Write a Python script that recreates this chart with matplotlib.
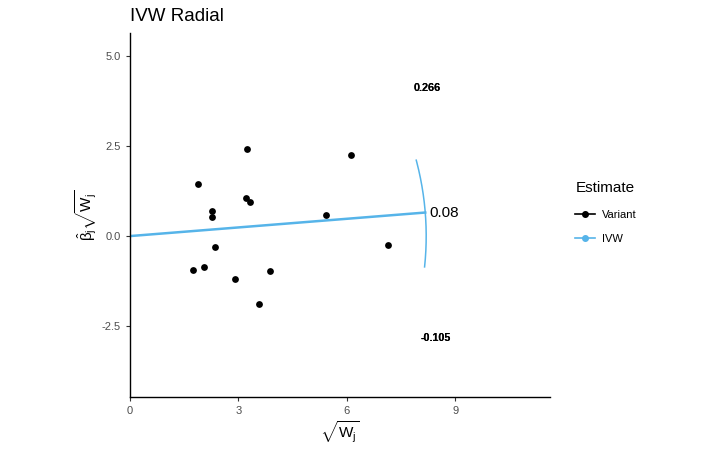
import numpy as np
import matplotlib
matplotlib.use("Agg")
import matplotlib.pyplot as plt
from matplotlib.lines import Line2D

plt.rcParams['font.family'] = ['Liberation Sans', 'DejaVu Sans']
plt.rcParams['mathtext.fontset'] = 'custom'
plt.rcParams['mathtext.rm'] = 'Liberation Sans'
plt.rcParams['mathtext.it'] = 'Liberation Sans'

# Data
sqrt_w = [3.23, 6.11, 1.88, 3.21, 3.32, 2.26, 2.28, 5.42, 2.34, 1.75, 2.06, 2.91, 3.88, 3.58, 7.15]
beta_sqrt_w = [2.43, 2.24, 1.44, 1.06, 0.94, 0.70, 0.54, 0.59, -0.31, -0.94, -0.86, -1.18, -0.97, -1.89, -0.25]
ivw_est = 0.08
ci_upper = 0.266
ci_lower = -0.105
radius = 8.2

BLUE = '#56B4E9'
fig = plt.figure(figsize=(7.2, 4.51), dpi=100)
ax = fig.add_axes([0.1806, 0.1197, 0.764 - 0.1806, 0.9268 - 0.1197])

ax.scatter(sqrt_w, beta_sqrt_w, s=24, color='black', zorder=3, linewidths=0)

# IVW line
ang = np.arctan(ivw_est)
ax.plot([0, radius*np.cos(ang)], [0, radius*np.sin(ang)], color=BLUE, lw=1.8, zorder=2)

# arc
t = np.linspace(np.arctan(ci_lower), np.arctan(ci_upper), 200)
ax.plot(radius*np.cos(t), radius*np.sin(t), color=BLUE, lw=1.1, zorder=2)

ax.text(8.3, radius*np.sin(ang), '%.2f' % ivw_est, fontsize=11, va='center', ha='left')
for k in range(2):
    ax.text(8.23, 4.1, '%.3f' % ci_upper, fontsize=7.8, ha='center', va='center', fontweight='bold')
    ax.text(8.47, -2.83, '%.3f' % ci_lower, fontsize=7.8, ha='center', va='center', fontweight='bold')

ax.set_xlim(0, 11.63)
ax.set_ylim(-4.47, 5.64)
ax.set_xticks([0, 3, 6, 9])
ax.set_xticklabels(['0', '3', '6', '9'])
ax.set_yticks([-2.5, 0.0, 2.5, 5.0])
ax.set_yticklabels(['-2.5', '0.0', '2.5', '5.0'])
for s in ['top', 'right']:
    ax.spines[s].set_visible(False)
for s in ['left', 'bottom']:
    ax.spines[s].set_linewidth(1.0)
ax.tick_params(axis='both', colors='#333333', labelcolor='#4D4D4D', labelsize=8, length=3, width=0.8)

ax.set_xlabel(r'$\sqrt{W_j}$', fontsize=11, labelpad=2)
ax.set_ylabel(r'$\hat{\beta}_j\sqrt{W_j}$', fontsize=11, labelpad=2)
fig.text(0.1806, 0.945, 'IVW Radial', fontsize=13.5, ha='left', va='bottom')

handles = [Line2D([0], [0], color='black', marker='o', markersize=4, lw=1.2),
           Line2D([0], [0], color=BLUE, marker='o', markersize=4, lw=1.2)]
leg = fig.legend(handles, ['Variant', 'IVW'], title='Estimate', loc='center left',
                 bbox_to_anchor=(0.793, 0.528), frameon=False, fontsize=8,
                 title_fontsize=11, handlelength=1.8, handletextpad=0.6, labelspacing=1.3,
                 borderaxespad=0)
leg._legend_box.align = 'left'

fig.savefig('out.png', dpi=100)
